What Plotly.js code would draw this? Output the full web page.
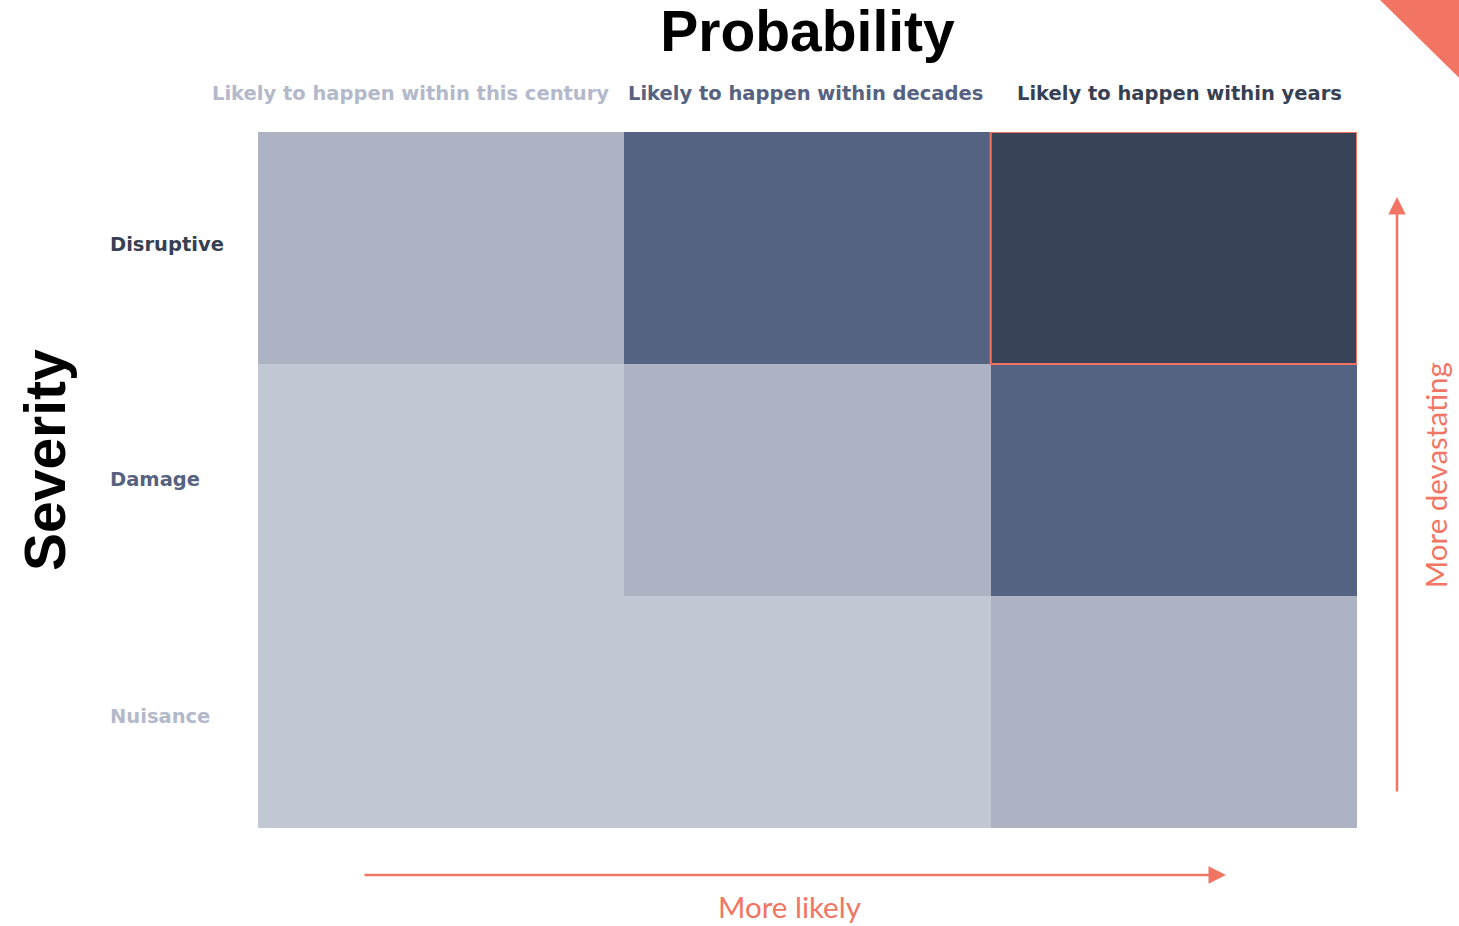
<!DOCTYPE html>
<html>
<head>
<meta charset="utf-8">
<script src="https://cdn.plot.ly/plotly-3.0.1.min.js"></script>
<style>html,body{margin:0;padding:0;background:#fff;}#chart{width:1459px;height:926px;}</style>
</head>
<body>
<div id="chart"></div>
<script>
// Data
const probabilityLabels = ["Likely to happen within this century", "Likely to happen within decades", "Likely to happen within years"];
const severityLabels = ["Nuisance", "Damage", "Disruptive"]; // bottom to top
// risk level per cell (rows follow severityLabels, columns follow probabilityLabels)
const riskNuisance = [1, 1, 2];
const riskDamage = [1, 2, 3];
const riskDisruptive = [2, 3, 4];
const probabilityLabelColors = ["#b3b9ca", "#56627f", "#373f52"];
const severityLabelColors = ["#b3b9ca", "#56627f", "#373f52"];
const highlightCell = {col: 2, row: 2};

const z = [riskNuisance, riskDamage, riskDisruptive];
const coral = "#f27563";
const labelFont = "DejaVu Sans";
const colLabelShift = [-31, -2, 6];
const rowLabelShift = [-4, 1, 4];

const trace = {
  type: "heatmap",
  x: probabilityLabels,
  y: severityLabels,
  z: z,
  zmin: 1, zmax: 4,
  colorscale: [[0, "#c1c7d3"], [1/3, "#adb3c3"], [2/3, "#556382"], [1, "#384256"]],
  showscale: false,
  hoverinfo: "skip",
  xgap: 0, ygap: 0
};

const rowAnnotations = severityLabels.map((s, i) => ({
  xref: "paper", yref: "y", x: -0.1365, y: s, xanchor: "left", yanchor: "middle",
  yshift: rowLabelShift[i],
  text: "<b>" + s + "</b>", showarrow: false,
  font: {family: labelFont, size: 19.5, color: severityLabelColors[i]}
}));

const colAnnotations = probabilityLabels.map((p, i) => ({
  xref: "x", yref: "paper", x: p, y: 1.056, xanchor: "center", yanchor: "middle",
  xshift: colLabelShift[i],
  text: "<b>" + p + "</b>", showarrow: false,
  font: {family: labelFont, size: 19.5, color: probabilityLabelColors[i]}
}));

const layout = {
  width: 1459, height: 926,
  margin: {l: 258, r: 102, t: 132, b: 98},
  paper_bgcolor: "#ffffff", plot_bgcolor: "#ffffff",
  title: {
    text: "<b>Probability</b>", xref: "paper", x: 0.5, xanchor: "center",
    yref: "container", y: 0.967, yanchor: "middle",
    font: {family: "Liberation Sans", size: 57, color: "#000000"}
  },
  xaxis: {
    type: "category", showticklabels: false, ticks: "",
    range: [-0.5, probabilityLabels.length - 0.5], autorange: false,
    showgrid: false, zeroline: false, showline: false, fixedrange: true
  },
  yaxis: {
    type: "category", categoryorder: "array", categoryarray: severityLabels,
    range: [-0.5, severityLabels.length - 0.5], autorange: false,
    showticklabels: false, ticks: "",
    showgrid: false, zeroline: false, showline: false, fixedrange: true
  },
  shapes: [
    {type: "rect", xref: "x", yref: "y",
     x0: highlightCell.col - 0.5, x1: highlightCell.col + 0.5,
     y0: highlightCell.row - 0.5, y1: highlightCell.row + 0.5,
     line: {color: coral, width: 2}, fillcolor: "rgba(0,0,0,0)"},
    {type: "path", xref: "paper", yref: "paper",
     path: "M 1.0209,1.1897 L 1.0930,1.1897 L 1.0930,1.0776 Z",
     fillcolor: coral, line: {width: 0}}
  ],
  annotations: rowAnnotations.concat(colAnnotations, [
    {xref: "paper", yref: "paper", x: -0.1938, y: 0.5287, textangle: -90,
     text: "<b>Severity</b>", showarrow: false, xanchor: "center", yanchor: "middle",
     font: {family: "Liberation Sans", size: 57, color: "#000000"}},
    {xref: "paper", yref: "paper", x: 0.8808, y: -0.0675, text: "",
     showarrow: true, ax: -863, ay: 0, arrowhead: 2, arrowsize: 1.4, arrowwidth: 2.5, arrowcolor: coral},
    {xref: "paper", yref: "paper", x: 1.0364, y: 0.9066, text: "",
     showarrow: true, ax: 0, ay: 596, arrowhead: 2, arrowsize: 1.4, arrowwidth: 2.5, arrowcolor: coral},
    {xref: "paper", yref: "paper", x: 0.484, y: -0.1135, text: "More likely", showarrow: false,
     xanchor: "center", yanchor: "middle",
     font: {family: "Lato", size: 29.5, color: coral}},
    {xref: "paper", yref: "paper", x: 1.071, y: 0.507, text: "More devastating", showarrow: false,
     textangle: -90, xanchor: "center", yanchor: "middle",
     font: {family: "Lato", size: 29.5, color: coral}}
  ])
};

Plotly.newPlot("chart", [trace], layout, {displayModeBar: false, staticPlot: true});
</script>
</body>
</html>
